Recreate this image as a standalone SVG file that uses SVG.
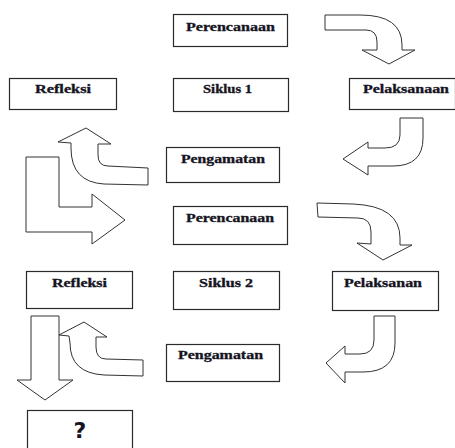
<svg xmlns="http://www.w3.org/2000/svg" width="455" height="448" viewBox="0 0 455 448">
<style>
.box{fill:#fff;stroke:#2a2a2a;stroke-width:1.2}
.lbl{font-family:"Liberation Serif","Times New Roman",serif;font-weight:bold;font-size:12px;fill:#14141e;stroke:#14141e;stroke-width:0.3}
.q{font-family:"DejaVu Sans",sans-serif;font-weight:bold;font-size:22px;fill:#14141e}
.arr{fill:#fff;stroke:#333;stroke-width:1;stroke-linejoin:miter}
</style>
<rect width="455" height="448" fill="#fff"/>
<g id="connectors">
<path class="arr" d="M325,15 L360,15 Q402,15 402,45 L402,50 L415,50 L389,64 L362,50 L377,50 L377,42 Q377,30 366,30 L325,30 Z"/>
<path class="arr" d="M400,118 L423,118 L423,138 Q423,166 393,166 L368,166 L368,175 L343,159 L368,142 L368,148 L385,148 Q400,148 400,135 Z"/>
<path class="arr" d="M148,168 L148,185 L104,184 Q71,182 71,148 L71,143 L58,142 L86,128 L111,144 L98,144 L98,155 Q98,166 108,166 Z"/>
<path class="arr" d="M26,157 L59,157 L59,207 L92,207 L92,194 L125,220 L92,244 L92,232 L26,232 Z"/>
<path class="arr" d="M317,203 L353,204 Q400,206 400,238 L400,245 L412,245 L383,260 L357,243 L371,244 L371,232 Q371,218 358,218 L318,217 Z"/>
<path class="arr" d="M374,316 L395,316 L395,343 Q395,372 363,372 L345,372 L345,383 L326,363 L345,346 L345,354 L360,354 Q374,354 374,340 Z"/>
<path class="arr" d="M143,360 L143,376 L104,375 Q70,373 70,343 L69,336 L59,335 L84,322 L107,337 L96,337 L96,347 Q96,359 106,359 Z"/>
<path class="arr" d="M31,316 L59,316 L59,380 L73,380 L45,400 L17,380 L31,380 Z"/>
</g>
<g id="perencanaan1"><rect class="box" x="173.5" y="14.5" width="114" height="32"/><text class="lbl" x="186" y="31" textLength="89" lengthAdjust="spacingAndGlyphs">Perencanaan</text></g>
<g id="refleksi1"><rect class="box" x="9.5" y="78.5" width="107" height="31"/><text class="lbl" x="35" y="93" textLength="56" lengthAdjust="spacingAndGlyphs">Refleksi</text></g>
<g id="siklus1"><rect class="box" x="173.5" y="78.5" width="115" height="33"/><text class="lbl" x="203" y="93" textLength="49" lengthAdjust="spacingAndGlyphs">Siklus 1</text></g>
<g id="pelaksanaan1"><rect class="box" x="349.5" y="78.5" width="106" height="31"/><text class="lbl" x="363" y="93" textLength="86" lengthAdjust="spacingAndGlyphs">Pelaksanaan</text></g>
<g id="pengamatan1"><rect class="box" x="166.5" y="147.5" width="113" height="35"/><text class="lbl" x="181" y="163" textLength="84" lengthAdjust="spacingAndGlyphs">Pengamatan</text></g>
<g id="perencanaan2"><rect class="box" x="173.5" y="206.5" width="114" height="38"/><text class="lbl" x="186" y="222" textLength="88" lengthAdjust="spacingAndGlyphs">Perencanaan</text></g>
<g id="refleksi2"><rect class="box" x="26.5" y="271.5" width="106" height="37"/><text class="lbl" x="52" y="287" textLength="55" lengthAdjust="spacingAndGlyphs">Refleksi</text></g>
<g id="siklus2"><rect class="box" x="173.5" y="271.5" width="106" height="38"/><text class="lbl" x="199" y="287" textLength="54" lengthAdjust="spacingAndGlyphs">Siklus 2</text></g>
<g id="pelaksanan2"><rect class="box" x="332.5" y="271.5" width="106" height="39"/><text class="lbl" x="344" y="287" textLength="78" lengthAdjust="spacingAndGlyphs">Pelaksanan</text></g>
<g id="pengamatan2"><rect class="box" x="166.5" y="344.5" width="113" height="37"/><text class="lbl" x="178" y="359" textLength="85" lengthAdjust="spacingAndGlyphs">Pengamatan</text></g>
<g id="hasil"><rect class="box" x="27.5" y="410.5" width="105" height="45"/><text class="q" x="80" y="438" text-anchor="middle">?</text></g>
</svg>
